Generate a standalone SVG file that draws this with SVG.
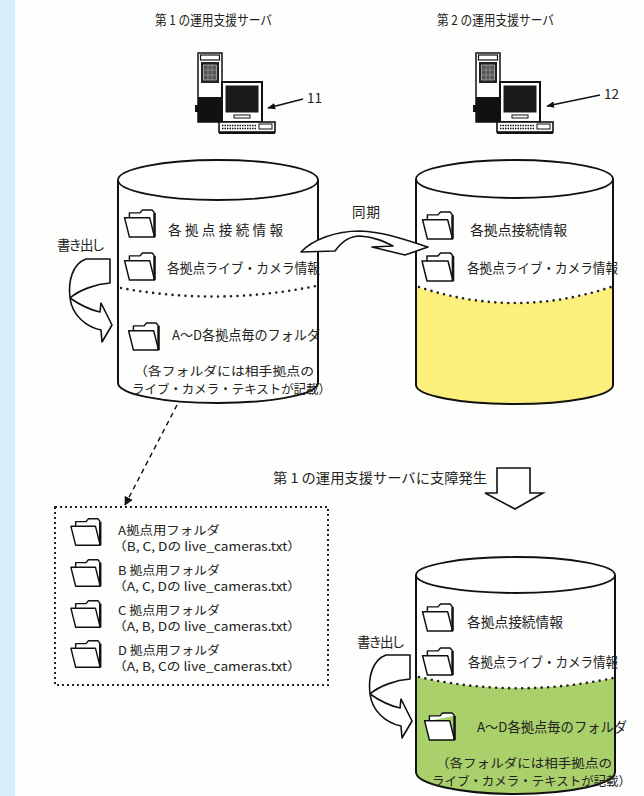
<svg xmlns="http://www.w3.org/2000/svg" xmlns:xlink="http://www.w3.org/1999/xlink" width="644" height="796" viewBox="0 0 644 796">
  <style>
    .t { font-family: "Noto Sans CJK JP", "Noto Sans", sans-serif; font-size: 13.5px; fill: #222; }
    .n { font-family: "Noto Sans CJK JP", "Noto Sans", sans-serif; font-size: 12.5px; fill: #222; }
    .s { font-family: "Noto Sans CJK JP", "Noto Sans", sans-serif; font-size: 12px; fill: #222; }
    .wall { fill: none; stroke: #111; stroke-width: 2; }
    .cap { fill: #fff; stroke: #111; stroke-width: 1.8; }
    .dots { fill: none; stroke: #222; stroke-width: 2.6; stroke-linecap: round; stroke-dasharray: 0 6.5; }
    .ribbon { fill: #fff; stroke: #111; stroke-width: 1.6; stroke-linejoin: round; }
  </style>
  <defs>
    <symbol id="folder" viewBox="0 0 36 30">
      <path d="M6,9 V4 H17 L19.5,1 H29.5 L32,4" fill="#fff" stroke="#111" stroke-width="1.5" stroke-linejoin="round"/>
      <path d="M1,9 H27 L32,29 H6 Z" fill="#fff" stroke="#111" stroke-width="1.5" stroke-linejoin="round"/>
      <path d="M32,4 V29" stroke="#111" stroke-width="2.6"/>
    </symbol>
    <g id="computer">
      <!-- tower -->
      <rect x="0" y="0" width="24" height="69" fill="#fff" stroke="#111" stroke-width="1.5"/>
      <rect x="2.5" y="2" width="19" height="5" fill="#fff" stroke="#111" stroke-width="1.2"/>
      <rect x="3" y="9" width="18" height="21" fill="#222"/>
      <rect x="5.5" y="12" width="13" height="15" fill="#555" stroke="#ddd" stroke-width="0.6"/>
      <path d="M5.5,17 H18.5 M5.5,22 H18.5 M10,12 V27 M14,12 V27" stroke="#aaa" stroke-width="0.6"/>
      <rect x="0" y="44" width="24" height="25" fill="#111"/>
      <rect x="-3" y="52" width="3" height="7" fill="#111"/>
      <!-- monitor -->
      <rect x="24" y="29" width="40" height="40" fill="#fff" stroke="#111" stroke-width="2"/>
      <rect x="27.5" y="32.5" width="33" height="27" fill="#1a1a1a"/>
      <rect x="36" y="62" width="16" height="3" fill="#fff" stroke="#111" stroke-width="1"/>
      <!-- keyboard -->
      <rect x="21" y="69" width="56" height="10" fill="#fff" stroke="#111" stroke-width="1.6"/>
      <path d="M24,72.5 H58 M24,75.5 H58" stroke="#111" stroke-width="1.6" stroke-dasharray="1.5 1"/>
      <rect x="61" y="71" width="13" height="5" fill="#fff" stroke="#111" stroke-width="1"/>
      <path d="M21,80 H77" stroke="#111" stroke-width="2"/>
    </g>
    <path id="writeArrow" class="ribbon" d="M110,259 L110,283 C96,284 79,290 70,298 C80,305 91,310 100,312 L101,303 L112,325 L102,342 L101,330 C86,327 72,315 70,298 C68,282 72,264 86,259 Z"/>
    <marker id="head" viewBox="0 0 10 10" refX="9" refY="5" markerWidth="9" markerHeight="9" markerUnits="userSpaceOnUse" orient="auto">
      <path d="M0,0 L10,5 L0,10 Z" fill="#111"/>
    </marker>
    <marker id="smallHead" viewBox="0 0 10 10" refX="9" refY="5" markerWidth="8" markerHeight="8" markerUnits="userSpaceOnUse" orient="auto">
      <path d="M0,1 L10,5 L0,9 Z" fill="#111"/>
    </marker>
  </defs>

  <rect x="0" y="0" width="644" height="796" fill="#fefefd"/>
  <rect x="0" y="0" width="15" height="796" fill="#d5eefb"/>

  <!-- server 1 -->
  <g id="server1">
    <text class="t" x="155" y="25" font-size="14" textLength="117" lengthAdjust="spacingAndGlyphs">第 1 の運用支援サーバ</text>
    <use href="#computer" x="198" y="53"/>
    <text class="t" x="307" y="103" font-size="12">11</text>
  </g>

  <!-- server 2 -->
  <g id="server2">
    <text class="t" x="437" y="25" font-size="14" textLength="117" lengthAdjust="spacingAndGlyphs">第 2 の運用支援サーバ</text>
    <use href="#computer" x="476" y="53"/>
    <text class="t" x="604" y="99" font-size="12">12</text>
  </g>

  <!-- storage of server 1 -->
  <g id="storage1">
    <path class="wall" d="M118,180 V383 A100,20 0 0 0 318,383 V180" fill="#fff"/>
    <ellipse class="cap" cx="218" cy="180" rx="100" ry="20"/>
    <path class="dots" d="M121,288 Q218,306 316,286"/>
    <use href="#folder" x="122" y="209" width="38" height="29"/>
    <use href="#folder" x="122" y="252" width="38" height="29"/>
    <use href="#folder" x="126" y="322" width="38" height="29"/>
    <text class="t" x="168" y="235" textLength="115">各拠点接続情報</text>
    <text class="t" x="167" y="273" textLength="153" lengthAdjust="spacingAndGlyphs">各拠点ライブ・カメラ情報</text>
    <text class="t" x="172" y="340" textLength="148" lengthAdjust="spacingAndGlyphs">A～D各拠点毎のフォルダ</text>
    <text class="n" x="134" y="376" textLength="180" lengthAdjust="spacingAndGlyphs">（各フォルダには相手拠点の</text>
    <text class="n" x="132" y="394" textLength="199" lengthAdjust="spacingAndGlyphs">ライブ・カメラ・テキストが記載）</text>
  </g>

  <!-- storage of server 2 -->
  <g id="storage2">
    <path d="M416,287 Q514.5,319 613,287 V385 A98.5,19 0 0 1 416,385 Z" fill="#fcef7c"/>
    <path class="wall" d="M416,179 V385 A98.5,19 0 0 0 613,385 V179"/>
    <ellipse class="cap" cx="514.5" cy="179" rx="98.5" ry="19"/>
    <path class="dots" d="M419,287 Q514.5,319 611,287"/>
    <use href="#folder" x="420" y="211" width="38" height="29"/>
    <use href="#folder" x="420" y="252" width="38" height="30"/>
    <text class="t" x="470" y="235" textLength="97" lengthAdjust="spacingAndGlyphs">各拠点接続情報</text>
    <text class="t" x="467" y="273" textLength="151" lengthAdjust="spacingAndGlyphs">各拠点ライブ・カメラ情報</text>
  </g>

  <!-- storage of server 2 after takeover -->
  <g id="storage3">
    <path d="M416,677 Q515.5,699 615,678 V772 A99.5,22 0 0 1 416,772 Z" fill="#a9d06b"/>
    <path class="wall" d="M416,575 V772 A99.5,22 0 0 0 615,772 V575"/>
    <ellipse class="cap" cx="515.5" cy="575" rx="99.5" ry="18"/>
    <path class="dots" d="M419,677 Q515.5,699 613,678"/>
    <use href="#folder" x="420" y="603" width="38" height="29"/>
    <use href="#folder" x="420" y="647" width="38" height="29"/>
    <use href="#folder" x="422" y="712" width="38" height="29"/>
    <text class="t" x="467" y="627" textLength="96" lengthAdjust="spacingAndGlyphs">各拠点接続情報</text>
    <text class="t" x="468" y="667" textLength="150" lengthAdjust="spacingAndGlyphs">各拠点ライブ・カメラ情報</text>
    <text class="t" x="477" y="732" textLength="150" lengthAdjust="spacingAndGlyphs">A～D各拠点毎のフォルダ</text>
    <text class="n" x="436" y="768" textLength="176" lengthAdjust="spacingAndGlyphs">（各フォルダには相手拠点の</text>
    <text class="n" x="432" y="786" textLength="199" lengthAdjust="spacingAndGlyphs">ライブ・カメラ・テキストが記載）</text>
  </g>

  <!-- per-site folder list -->
  <g id="siteFolders">
    <rect x="55" y="507" width="273" height="178" fill="none" stroke="#222" stroke-width="2" stroke-dasharray="2 3"/>
    <use href="#folder" x="70" y="517" width="34" height="30"/>
    <use href="#folder" x="70" y="558" width="34" height="30"/>
    <use href="#folder" x="70" y="599" width="34" height="30"/>
    <use href="#folder" x="70" y="639" width="34" height="30"/>
    <text class="s" x="118" y="535" textLength="102" lengthAdjust="spacingAndGlyphs">A拠点用フォルダ</text>
    <text class="s" x="113" y="551" font-size="11.5" textLength="188" lengthAdjust="spacingAndGlyphs">（B, C, Dの live_cameras.txt）</text>
    <text class="s" x="118" y="575" textLength="102" lengthAdjust="spacingAndGlyphs">B 拠点用フォルダ</text>
    <text class="s" x="113" y="591" font-size="11.5" textLength="188" lengthAdjust="spacingAndGlyphs">（A, C, Dの live_cameras.txt）</text>
    <text class="s" x="118" y="615" textLength="102" lengthAdjust="spacingAndGlyphs">C 拠点用フォルダ</text>
    <text class="s" x="113" y="631" font-size="11.5" textLength="188" lengthAdjust="spacingAndGlyphs">（A, B, Dの live_cameras.txt）</text>
    <text class="s" x="118" y="655" textLength="102" lengthAdjust="spacingAndGlyphs">D 拠点用フォルダ</text>
    <text class="s" x="113" y="671" font-size="11.5" textLength="188" lengthAdjust="spacingAndGlyphs">（A, B, Cの live_cameras.txt）</text>
  </g>

  <!-- connectors -->
  <g id="connectors">
    <line x1="303" y1="99" x2="268" y2="108" stroke="#111" stroke-width="1.4" marker-end="url(#smallHead)"/>
    <line x1="600" y1="95" x2="547" y2="106" stroke="#111" stroke-width="1.4" marker-end="url(#smallHead)"/>
    <text class="t" x="57" y="250" textLength="48">書き出し</text>
    <use href="#writeArrow"/>
    <text class="t" x="357" y="647" textLength="48">書き出し</text>
    <use href="#writeArrow" transform="translate(300,396)"/>
    <text class="t" x="352" y="217" textLength="28">同期</text>
    <path class="ribbon" d="M301,252 L335,251 C342,241 350,236 360,236 C375,237 385,242 393,246 L372,247 L405,255 L428,247 C406,240 386,232 360,231 C335,231 312,240 301,252 Z"/>
    <line x1="177" y1="405" x2="125" y2="505" stroke="#111" stroke-width="1.4" stroke-dasharray="5 4" marker-end="url(#head)"/>
    <text class="t" x="273" y="483" font-size="14" textLength="214" lengthAdjust="spacingAndGlyphs">第 1 の運用支援サーバに支障発生</text>
    <polygon points="497,468 530,468 530,493 543,493 515,509 485,493 497,493" fill="#fff" stroke="#111" stroke-width="1.6" stroke-linejoin="miter"/>
  </g>
</svg>
